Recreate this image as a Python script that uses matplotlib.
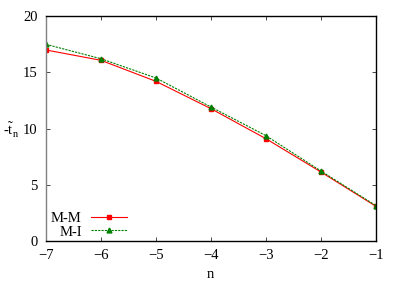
import matplotlib
matplotlib.use("Agg")
import matplotlib.pyplot as plt

n = [-7, -6, -5, -4, -3, -2, -1]
mm = [16.98, 16.06, 14.19, 11.76, 9.09, 6.13, 3.08]
mi = [17.48, 16.20, 14.49, 11.91, 9.36, 6.22, 3.14]
xticks = [-7, -6, -5, -4, -3, -2, -1]
yticks = [0, 5, 10, 15, 20]

plt.rcParams['font.family'] = ['Liberation Serif', 'DejaVu Serif']
plt.rcParams['mathtext.fontset'] = 'custom'
plt.rcParams['mathtext.rm'] = 'Liberation Serif'

fig = plt.figure(figsize=(4.07, 2.85), dpi=100)
ax = fig.add_axes([46/407, 1-241/285, (376-46)/407, (241-16)/285])

ax.plot(n, mm, color='#ff0000', lw=0.8, marker='s', ms=3.5, label='M-M')
ax.plot(n, mi, color='#008000', lw=0.8, ls=(0, (2, 1)), marker='^', ms=3.5, label='M-I')

ax.set_xlim(-7, -1)
ax.set_ylim(0, 20)
ax.set_xticks(xticks)
ax.set_yticks(yticks)
ax.tick_params(direction='in', top=True, right=True, labelsize=10.5, length=3, width=0.5, pad=6)
for s in ax.spines.values():
    s.set_linewidth(1.0)
ax.spines['left'].set_color('#808080')

fig.text(210/407, 1-275/285, 'n', fontsize=10.5, ha='center', va='center')
fig.text(11/407, 1-130/285, r'-$\tilde{\mathrm{t}}_{\mathrm{n}}$', fontsize=10.5, ha='center', va='center')

leg = ax.legend(loc='lower left', bbox_to_anchor=(0.0, -0.012), frameon=False, fontsize=10.5,
                markerfirst=False, handlelength=2.5, handletextpad=0.6, labelspacing=0.05,
                borderaxespad=0.15, borderpad=0.2)
for t in leg.get_texts():
    t.set_ha('right')

fig.savefig('out.png', dpi=100)
